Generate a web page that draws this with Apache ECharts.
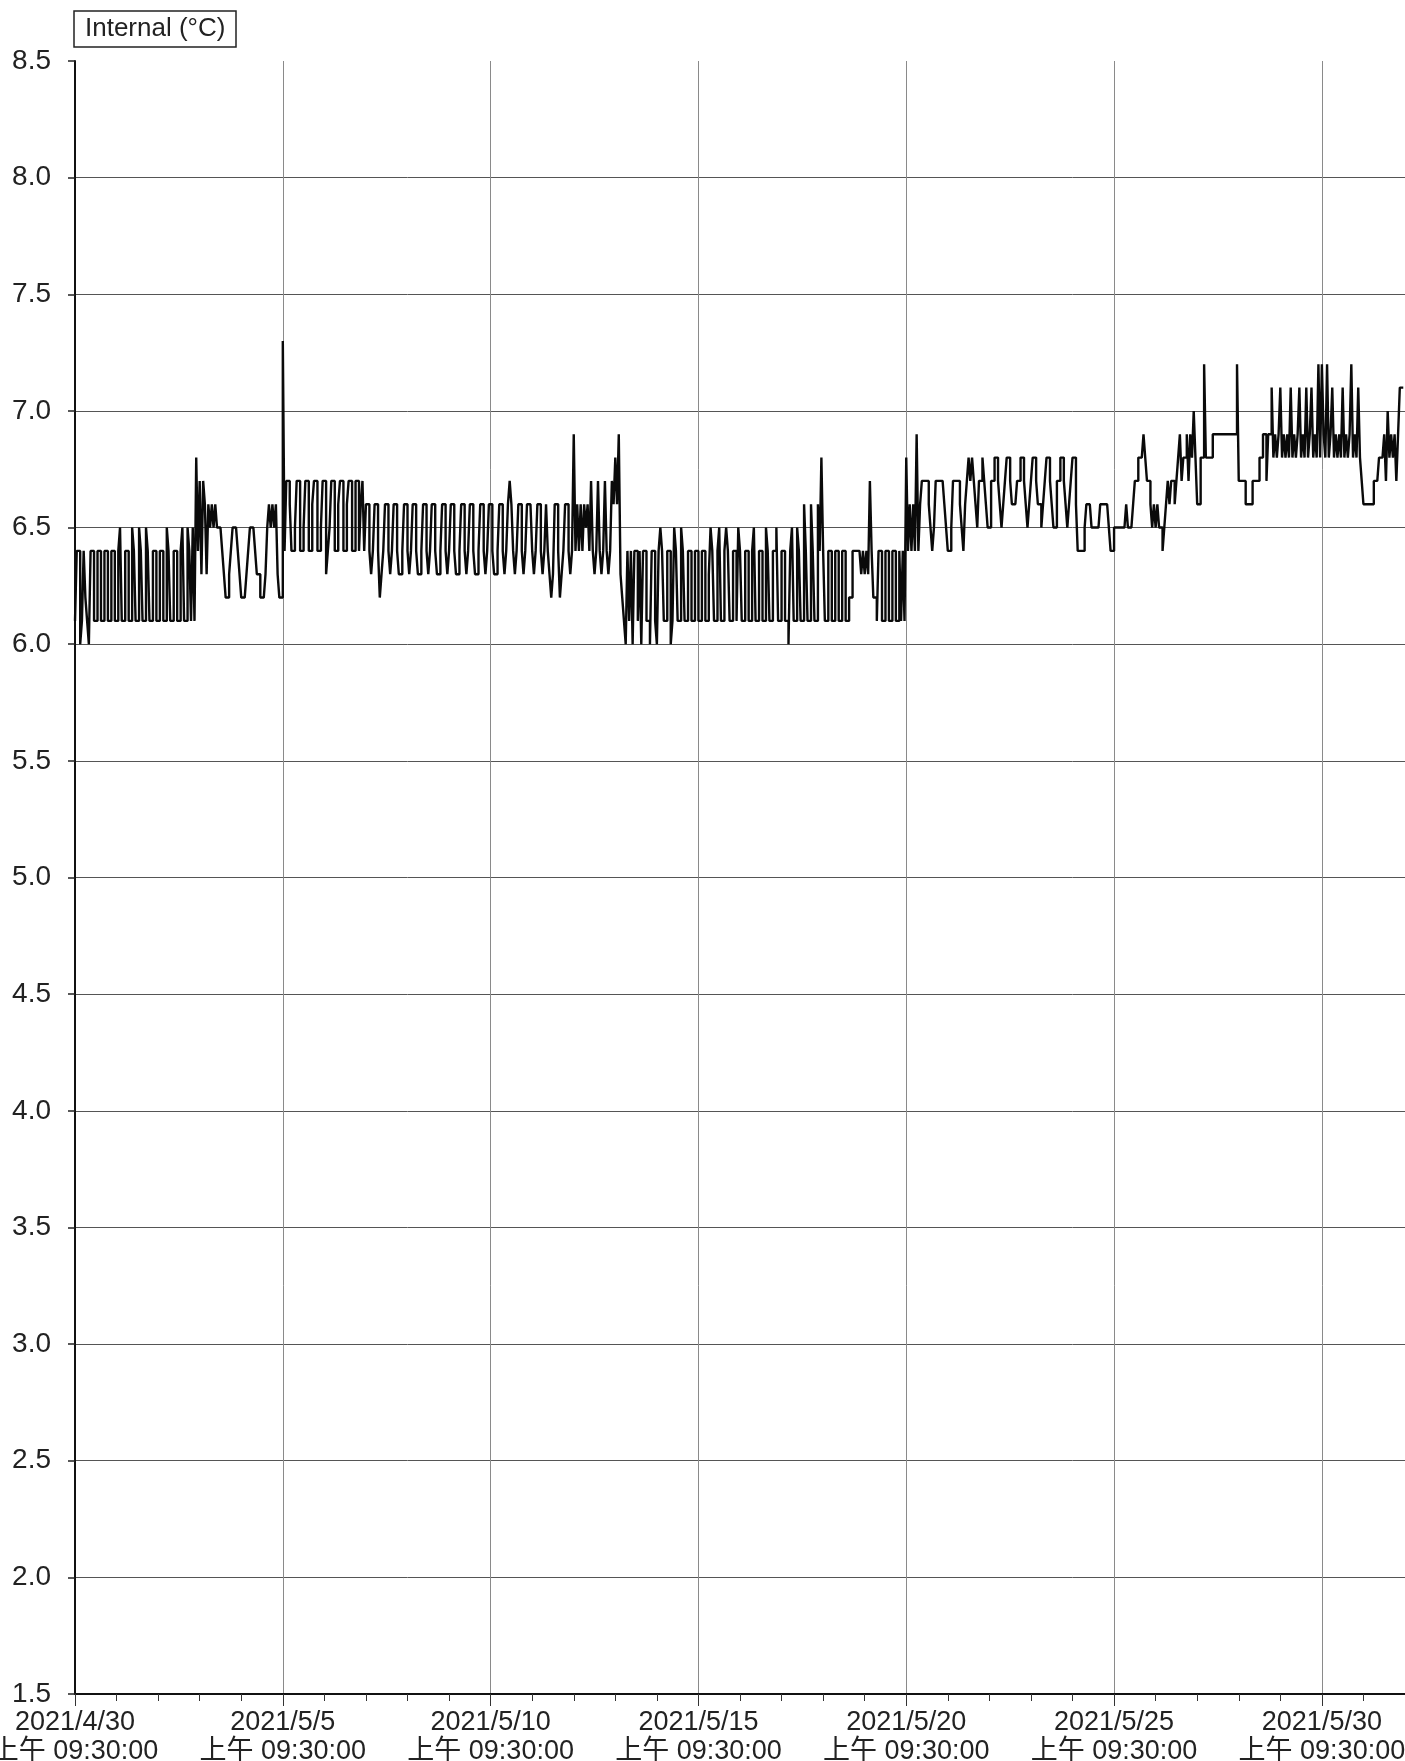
<!DOCTYPE html>
<html><head><meta charset="utf-8">
<script src="https://cdn.jsdelivr.net/npm/echarts@6/dist/echarts.min.js"></script>
<style>html,body{margin:0;padding:0;background:#fff}#c{width:1405px;height:1761px}</style>
</head><body><div id="c"></div>
<script>
// Hourly readings, starting 2021/4/30 09:30 (index = hours since start)
const seriesName = 'Internal (°C)';
const xTickLabels = [
  '2021/4/30\n上午 09:30:00', '2021/5/5\n上午 09:30:00', '2021/5/10\n上午 09:30:00',
  '2021/5/15\n上午 09:30:00', '2021/5/20\n上午 09:30:00', '2021/5/25\n上午 09:30:00',
  '2021/5/30\n上午 09:30:00'
];
const hoursPerTick = 120;
const totalHours = 768;

const segApr30toMay3 = [
  6.1,6.4,6.4,6.0, 6.1,6.4,6.2,6.1, 6.0,6.4,6.4,6.1,
  6.1,6.4,6.4,6.1, 6.1,6.4,6.4,6.1, 6.1,6.4,6.4,6.1,
  6.1,6.4,6.5,6.1, 6.1,6.4,6.4,6.1, 6.1,6.5,6.4,6.1,
  6.1,6.5,6.4,6.1, 6.1,6.5,6.4,6.1, 6.1,6.4,6.4,6.1,
  6.1,6.4,6.4,6.1, 6.1,6.5,6.4,6.1, 6.1,6.4,6.4,6.1,
  6.1,6.4,6.5,6.1, 6.1,6.5,6.4,6.1, 6.5,6.1
];
const segMay3toMay5 = [
  6.8,6.4,
  6.7,6.3,6.7,6.6,6.3,6.6,6.5,6.6,6.5,6.6,6.5,6.5,
  6.5,6.4,6.3,6.2,6.2,6.3,6.4,6.5,6.5,6.5,6.4,6.3,
  6.2,6.2,6.2,6.3,6.4,6.5,6.5,6.5,6.4,6.3,6.3,6.2,
  6.2,6.2,6.3,6.5,6.6,6.5,6.6,6.5,6.6,6.3,6.2,6.2
];
const segMay5toMay7 = [
  7.3,6.4,6.7,6.7,6.6,6.4,6.4,6.5,6.7,6.7,6.4,6.4,
  6.5,6.7,6.7,6.4,6.4,6.6,6.7,6.7,6.4,6.4,6.5,6.7,
  6.7,6.3,6.4,6.5,6.7,6.7,6.4,6.4,6.6,6.7,6.7,6.4,
  6.4,6.6,6.7,6.7,6.4,6.4,6.7,6.7,6.4,6.6,6.7,6.4
];
const segMay7toMay12 = [
  6.6,6.6,6.4,6.3,6.4,
  6.6,6.6,6.4,6.2,6.3,6.4,
  6.6,6.6,6.4,6.3,6.4,
  6.6,6.6,6.4,6.3,6.3,6.4,
  6.6,6.6,6.4,6.3,6.4,
  6.6,6.6,6.4,6.3,6.3,6.4,
  6.6,6.6,6.4,6.3,6.4,
  6.6,6.6,6.4,6.3,6.3,6.4,
  6.6,6.6,6.4,6.3,6.4,
  6.6,6.6,6.4,6.3,6.3,6.4,
  6.6,6.6,6.4,6.3,6.4,
  6.6,6.6,6.4,6.3,6.3,6.4,
  6.6,6.6,6.4,6.3,6.4,
  6.6,6.6,6.4,6.3,6.3,6.4,
  6.6,6.6,6.4,6.3,6.4,
  6.6,6.7,6.6,6.4,6.3,6.4,
  6.6,6.6,6.4,6.3,6.4,
  6.6,6.6,6.6,6.4,6.3,6.4,
  6.6,6.6,6.4,6.3,6.4,
  6.6,6.4,6.3,6.2,6.3,6.6,
  6.6,6.4,6.2,6.3,6.4,6.6,
  6.6,6.4,6.3,6.4
];
const segMay12toMay13 = [
  6.9, 6.4,6.6,6.4,6.6,6.4,6.6,6.5,6.6,6.4,
  6.7,6.4,6.3,6.4,6.7,6.4,6.3,6.4,6.7,6.4,6.3,6.4,6.7,
  6.6,6.8,6.6,6.9,6.3,6.2
];
const segMay13toMay20 = [
  6.1,6.0,6.4,6.1,6.4,6.0,6.4,6.4,6.1,6.4,
  6.0,6.4,6.4,6.1,6.1,6.0,6.4,6.4,6.1,6.0,
  6.4,6.5,6.4,6.1,6.1,6.4,6.4,6.0,6.1,6.5,
  6.4,6.1,6.1,6.5,6.4,6.1,6.1,6.4,6.4,6.1,
  6.1,6.4,6.4,6.1,6.1,6.4,6.4,6.1,6.1,6.3,
  6.5,6.4,6.1,6.1,6.4,6.5,6.1,6.1,6.4,6.5,
  6.4,6.1,6.1,6.4,6.4,6.1,6.5,6.4,6.1,6.1,
  6.4,6.4,6.1,6.1,6.4,6.5,6.1,6.1,6.4,6.4,
  6.1,6.1,6.5,6.4,6.1,6.1,6.4,6.4,6.5,6.1,
  6.1,6.4,6.4,6.1,6.1,6.0,6.4,6.5,6.1,6.1,
  6.5,6.4,6.1,6.1,6.6,6.4,6.1,6.1,6.6,6.4,
  6.1,6.1,6.6,6.4,6.8,6.4,6.1,6.1,6.4,6.4,
  6.1,6.1,6.4,6.4,6.1,6.1,6.4,6.4,6.1,6.1,
  6.2,6.2,6.4,6.4,6.4,6.4,6.4,6.3,6.4,6.3,
  6.4,6.3,6.7,6.4,6.2,6.2,6.1,6.4,6.4,6.1,
  6.1,6.4,6.4,6.1,6.1,6.4,6.4,6.1,6.1,6.4,
  6.1,6.4,6.1
];
const segMay20toMay25 = [
  6.8,6.4,6.6,6.4,6.6,6.4,6.9,6.4,6.6,6.7,6.7,6.7,
  6.7,6.6,6.5,6.4,6.5,6.7,6.7,6.7,6.7,6.7,6.6,6.5,
  6.4,6.4,6.5,6.7,6.7,6.7,6.7,6.6,6.5,6.4,6.6,6.7,
  6.8,6.7,6.8,6.7,6.6,6.5,6.7,6.7,6.8,6.7,6.6,6.5,
  6.5,6.7,6.7,6.8,6.8,6.7,6.6,6.5,6.6,6.7,6.8,6.8,
  6.7,6.6,6.6,6.6,6.7,6.7,6.8,6.8,6.7,6.6,6.5,6.6,
  6.7,6.8,6.8,6.7,6.6,6.6,6.5,6.6,6.7,6.8,6.8,6.7,
  6.6,6.5,6.5,6.7,6.7,6.8,6.8,6.7,6.6,6.5,6.6,6.7,
  6.8,6.8,6.6,6.4,6.4,6.4,6.4,6.5,6.6,6.6,6.6,6.5,
  6.5,6.5,6.5,6.5,6.6,6.6,6.6,6.6,6.6,6.5,6.4,6.4
];
const segMay25toJun1 = [
  6.5,6.5,6.5,6.5,6.5,6.5,6.5,6.6,6.5,6.5,6.5,6.6,
  6.7,6.7,6.8,6.8,6.8,6.9,6.8,6.7,6.7,6.6,6.5,6.6,
  6.5,6.6,6.5,6.5,6.4,6.5,6.6,6.7,6.6,6.7,6.7,6.6,
  6.7,6.8,6.9,6.7,6.8,6.8,6.9,6.7,6.9,6.8,7.0,6.8,
  6.6,6.6,6.8,6.8,7.2,6.8,6.8,6.8,6.8,6.9,6.9,6.9,
  6.9,6.9,6.9,6.9,6.9,6.9,6.9,6.9,6.9,6.9,6.9,7.2,
  6.7,6.7,6.7,6.7,6.6,6.6,6.6,6.6,6.7,6.7,6.7,6.7,
  6.8,6.8,6.9,6.9,6.7,6.9,6.9,7.1,6.8,6.9,6.8,6.9,
  7.1,6.8,6.9,6.8,6.9,6.8,7.1,6.8,6.9,6.8,6.9,7.1,
  6.8,6.9,6.8,7.1,6.8,6.9,7.1,6.8,6.9,6.8,7.2,6.8,
  7.2,6.9,6.8,7.2,6.8,6.9,7.1,6.8,6.9,6.8,6.9,6.8,
  7.1,6.8,6.9,6.8,6.9,7.2,6.8,6.9,6.8,7.1,6.8,6.7,
  6.6,6.6,6.6,6.6,6.6,6.6,6.7,6.7,6.7,6.8,6.8,6.8,
  6.9,6.7,7.0,6.8,6.9,6.8,6.9,6.7,6.9,7.1,7.1,7.1
];

const values = [].concat(segApr30toMay3, segMay3toMay5, segMay5toMay7, segMay7toMay12,
  segMay12toMay13, segMay13toMay20, segMay20toMay25, segMay25toJun1);
const data = values.map((v, hour) => [hour, v]);

const FONT = "'Liberation Sans', Arial, 'Noto Sans CJK SC', sans-serif";
const chart = echarts.init(document.getElementById('c'), null, {renderer: 'canvas'});
chart.setOption({
  animation: false,
  backgroundColor: '#ffffff',
  title: {
    text: seriesName, left: 74, top: 11, padding: [5, 11, 5, 11],
    borderWidth: 1.5, borderColor: '#222',
    textStyle: {fontFamily: FONT, fontSize: 26, fontWeight: 'normal', color: '#222'}
  },
  grid: {left: 75, right: 0, top: 61, bottom: 67, containLabel: false, outerBoundsMode: 'none'},
  xAxis: {
    type: 'value', min: 0, max: totalHours, interval: hoursPerTick,
    axisLine: {show: true, lineStyle: {color: '#111', width: 2}},
    axisTick: {show: true, length: 12, lineStyle: {color: '#333', width: 1}},
    minorTick: {show: true, splitNumber: 5, length: 7, lineStyle: {color: '#333', width: 1}},
    splitLine: {show: true, showMaxLine: false, lineStyle: {color: '#8a8a8a', width: 1}},
    axisLabel: {
      formatter: v => xTickLabels[v / hoursPerTick] || '',
      fontFamily: FONT, fontSize: 27, lineHeight: 29, color: '#222', margin: 14
    }
  },
  yAxis: {
    type: 'value', min: 1.5, max: 8.5, interval: 0.5,
    axisLine: {show: true, lineStyle: {color: '#111', width: 2}},
    axisTick: {show: true, length: 7, lineStyle: {color: '#222', width: 1.5}},
    splitLine: {show: true, showMaxLine: false, lineStyle: {color: '#555', width: 1}},
    axisLabel: {formatter: v => v.toFixed(1), fontFamily: FONT, fontSize: 28, color: '#222', margin: 24}
  },
  series: [{
    name: seriesName, type: 'line', step: 'end', data: data,
    showSymbol: false, symbol: 'none',
    lineStyle: {color: '#0a0a0a', width: 2.4}, itemStyle: {color: '#0a0a0a'}
  }]
});
</script>
</body></html>
